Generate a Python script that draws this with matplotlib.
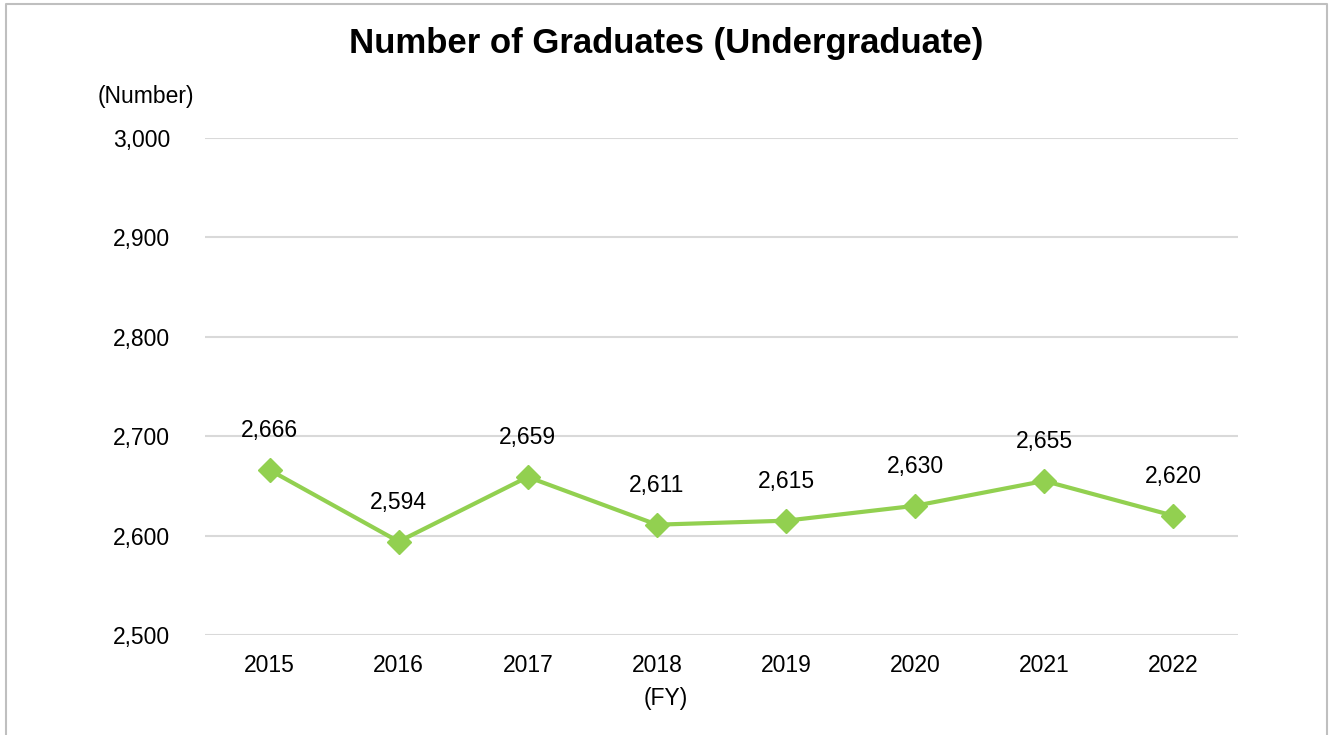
import matplotlib
matplotlib.use("Agg")
import matplotlib.pyplot as plt
from matplotlib.lines import Line2D

plt.rcParams['font.family'] = ['Liberation Sans', 'DejaVu Sans']

years = ["2015", "2016", "2017", "2018", "2019", "2020", "2021", "2022"]
graduates = [2666, 2594, 2659, 2611, 2615, 2630, 2655, 2620]
yticks = [2500, 2600, 2700, 2800, 2900, 3000]

fs = 16.5

fig = plt.figure(figsize=(13.32, 7.35), dpi=100)
ax = fig.add_axes([205/1332, 1-635/735, (1238-205)/1332, (635-138)/735])

x = list(range(len(years)))
ax.plot(x, graduates, color='#92D050', lw=3, marker='D', markersize=12,
        zorder=3, solid_joinstyle='miter')
for xi, v in zip(x, graduates):
    ax.annotate(f"{v:,}", (xi, v), xytext=(0, 20), textcoords='offset points',
                ha='center', va='bottom', fontsize=fs, color='black')

ax.set_xlim(-0.5, len(years) - 0.5)
ax.set_ylim(2500, 3000)
ax.set_yticks(yticks)
ax.set_yticklabels([f"{t:,}" for t in yticks], fontsize=fs)
ax.set_xticks(x)
ax.set_xticklabels(years, fontsize=fs)
ax.tick_params(length=0, pad=25, axis='y')
ax.tick_params(length=0, pad=14, axis='x')
ax.grid(axis='y', color='#D9D9D9', lw=1.5)
ax.set_axisbelow(True)
for s in ax.spines.values():
    s.set_visible(False)

fig.text(666/1332, 1-44/735, "Number of Graduates (Undergraduate)", ha='center',
         va='center', fontsize=25, fontweight='bold')
fig.text(146/1332, 1-96/735, "(Number)", ha='center', va='center', fontsize=fs)
fig.text(666/1332, 1-699/735, "(FY)", ha='center', va='center', fontsize=fs)

# outer frame (no bottom edge)
fx = [6/1332, 6/1332, 1327/1332, 1327/1332]
fy = [0, 1-4/735, 1-4/735, 0]
fig.add_artist(Line2D(fx, fy, transform=fig.transFigure, color='#BFBFBF', lw=1.5))

fig.savefig("out.png", dpi=100, facecolor='white')
